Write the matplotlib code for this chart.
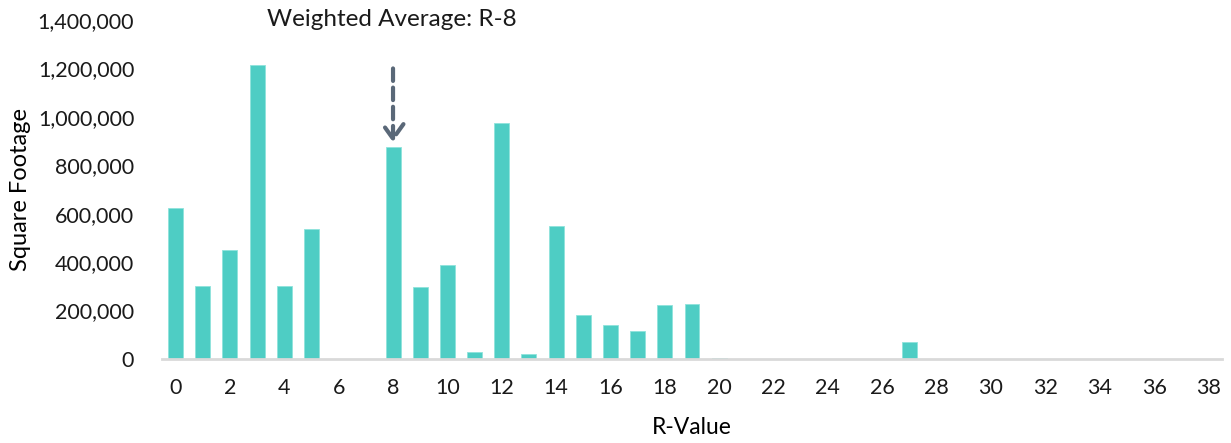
import numpy as np
import matplotlib
matplotlib.use("Agg")
import matplotlib.pyplot as plt
from matplotlib.ticker import FuncFormatter

# square footage by R-value (0..38)
r_values = list(range(0, 39))
sq_footage = [625000, 300000, 450000, 1215000, 300000, 536000, 0, 0,
              875000, 296000, 388000, 30000, 975000, 20000, 548000, 180000,
              142000, 117000, 224000, 227000, 3000, 0, 0, 0,
              0, 0, 0, 72000, 0, 0, 0, 0,
              0, 0, 0, 0, 0, 0, 0]
weighted_avg = 8
note = "Weighted Average: R-8"

BAR = "#4ECDC4"
ARROW = "#5A6878"
TXT = "#1a1a1a"

plt.rcParams.update({"font.family": ["Lato", "DejaVu Sans"], "font.size": 15,
                     "text.color": TXT})
fig = plt.figure(figsize=(12.31, 4.43), dpi=100)
ax = fig.add_axes([162 / 1231, 1 - 359 / 443, 1060 / 1231, 339 / 443])

ax.bar(r_values, sq_footage, width=0.55, color=BAR, edgecolor="#8FE3DC",
       linewidth=0.6, zorder=2)
ax.set_xlim(-0.5, 38.5)
ax.set_ylim(0, 1400000)
ax.set_xticks(r_values[::2])
ax.set_yticks(np.arange(0, 1400001, 200000))
ax.yaxis.set_major_formatter(FuncFormatter(lambda v, _: f"{int(v):,}"))
ax.tick_params(length=0, labelsize=15.5, colors=TXT)
ax.tick_params(axis="y", pad=20)
ax.tick_params(axis="x", pad=14)

for s in ("top", "right", "left"):
    ax.spines[s].set_visible(False)
ax.spines["bottom"].set_color("#D9D9D9")
ax.spines["bottom"].set_linewidth(2)

ax.set_xlabel("R-Value", fontsize=16.5, labelpad=13)
ax.set_ylabel("Square Footage", fontsize=17, labelpad=5)

# dashed arrow pointing at the weighted-average bar
top = sq_footage[r_values.index(weighted_avg)]
ax.annotate("", xy=(weighted_avg, top + 20000), xytext=(weighted_avg, 1200000),
            arrowprops=dict(arrowstyle="->,head_length=0.7,head_width=0.5",
                            color=ARROW, lw=3, linestyle=(0, (3, 1.6)),
                            shrinkA=0, shrinkB=0))
ax.text(weighted_avg - 0.05, 1400000, note, ha="center", va="center",
        fontsize=17.5, clip_on=False)

fig.savefig("out.png", dpi=100)
